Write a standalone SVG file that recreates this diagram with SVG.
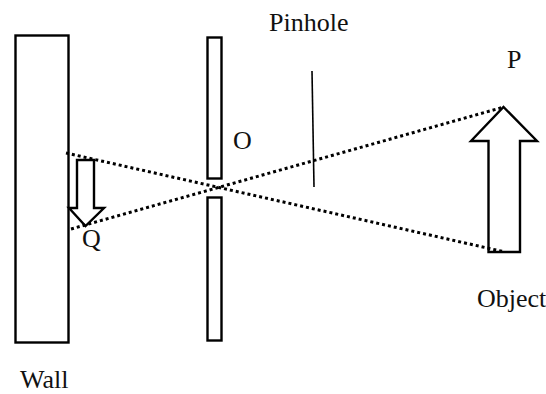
<svg xmlns="http://www.w3.org/2000/svg" width="546" height="394" viewBox="0 0 546 394">
<style>
.s{fill:#fff;stroke:#000;stroke-width:2.4}
.d{fill:none;stroke:#000;stroke-width:3;stroke-dasharray:3 3}
text{font-family:"Liberation Serif","Times New Roman",serif;font-size:26px;fill:#111}
</style>
<rect width="546" height="394" fill="#fff"/>
<g id="wall"><rect class="s" x="15.500" y="35.500" width="53" height="307"/><text x="20" y="388">Wall</text></g>
<g id="barrier-upper"><rect class="s" x="207.500" y="37.500" width="14" height="141"/></g>
<g id="barrier-lower"><rect class="s" x="207.500" y="197.500" width="14" height="143"/></g>
<g id="image-arrow"><path class="s" d="M77 160H94V208H104L85.500 226L69 208H77Z"/><text x="82" y="247">Q</text></g>
<g id="object-arrow"><path class="s" d="M488.500 252V141H471L503.500 107L537 141H520V252Z"/><text x="477" y="307">Object</text></g>
<g id="connectors">
<path class="d" d="M66 153L505 252"/>
<path class="d" d="M71 229L504 107"/>
<path d="M312 71L314 187" fill="none" stroke="#000" stroke-width="1.6"/>
</g>
<g id="labels">
<text x="269" y="31">Pinhole</text>
<text x="507" y="68">P</text>
<text x="233" y="149">O</text>
</g>
</svg>
